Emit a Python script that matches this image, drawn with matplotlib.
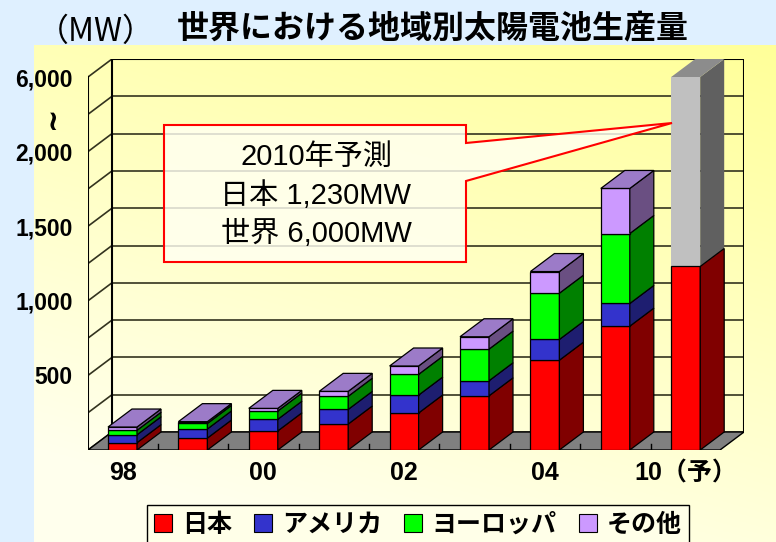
import numpy as np
import matplotlib
matplotlib.use('Agg')
import matplotlib.pyplot as plt
from matplotlib.patches import Polygon, Rectangle, Patch

plt.rcParams['font.family'] = ['Liberation Sans', 'Noto Sans CJK JP']

# data (MW)
years = ['98', '99', '00', '01', '02', '03', '04', '05', '10（予）']
tick_labels = ['98', '', '00', '', '02', '', '04', '', '10（予）']
japan = [49, 80, 128, 174, 248, 363, 602, 830, 1230]
usa = [53, 61, 78, 98, 120, 101, 139, 152, 0]
europe = [30, 37, 55, 88, 139, 212, 310, 469, 0]
others = [22, 12, 18, 33, 56, 83, 145, 302, 0]
world_2010 = 6000
series_names = ['日本', 'アメリカ', 'ヨーロッパ', 'その他']
ytick_vals = [500, 1000, 1500, 2000, 6000]
ytick_labels = ['500', '1,000', '1,500', '2,000', '6,000']
note_lines = ['2010年予測', '日本 1,230MW', '世界 6,000MW']

front_cols = ['#FF0000', '#3333CC', '#00FF00', '#CC99FF']
side_cols = ['#800000', '#1E1E70', '#008000', '#6A4F82']
top_col = '#9C7BC8'


def brk(v):
    # broken axis: above 2,250 the scale is squeezed so 6,000 sits at 2,500
    if v <= 2250:
        return v
    return 2250 + (v - 2250) * 250 / (6000 - 2250)


W, H = 776, 542
fig = plt.figure(figsize=(W / 100, H / 100), dpi=100, facecolor='#DFF0FF')


def fx(px):
    return px / W


def fy(py):
    return 1 - py / H


# yellow gradient panel
bg = fig.add_axes([fx(34), 0, 1 - fx(34), fy(45)])
bg.set_zorder(-5)
gy, gx = np.mgrid[0:1:200j, 0:1:200j]
t = np.clip(0.8 * gy + 0.35 * gx - 0.15, 0, 1)
light = np.array([1.0, 1.0, 0.93])
yellow = np.array([1.0, 1.0, 0.6])
img = light + t[..., None] * (yellow - light)
bg.imshow(img, origin='lower', aspect='auto', extent=[0, 1, 0, 1])
bg.axis('off')

# 3D-ish geometry
PXU = 373 / 2500          # pixels per MW unit
PXC = 70.4                # pixels per category
DX = 24 / PXC
DY = 18 / PXU
BW = 29 / PXC
x_left = -(122.5 - 88) / PXC
x_right = (744 - 122.5) / PXC
y_top = 2500 + DY

ax = fig.add_axes([fx(88), fy(450), fx(744) - fx(88), y_top * PXU / H])
ax.set_xlim(x_left, x_right)
ax.set_ylim(0, y_top)
ax.patch.set_alpha(0)
for s in ax.spines.values():
    s.set_visible(False)

# floor
ax.add_patch(Polygon([(x_left, 0), (x_right - DX, 0), (x_right, DY), (x_left + DX, DY)],
                     closed=True, fc='#808080', ec='black', lw=1, zorder=1))

# back wall grid and left wall ticks
grid_c = '#33331F'
for v in range(0, 2501, 250):
    ax.plot([x_left + DX, x_right], [v + DY, v + DY], color=grid_c, lw=1.2, zorder=0.5)
    ax.plot([x_left, x_left + DX], [v, v + DY], color=grid_c, lw=1.2, zorder=0.5)
ax.plot([x_left, x_left], [0, 2500], color='black', lw=1.5, zorder=2)
ax.plot([x_left + DX, x_left + DX], [DY, y_top], color='black', lw=1.5, zorder=0.6)
ax.plot([x_right, x_right], [DY, y_top], color='black', lw=1.5, zorder=0.6)
ax.plot([x_left + DX, x_right], [y_top, y_top], color='black', lw=1.5, zorder=0.6)

# floor ticks between categories
for i in range(len(years) - 1):
    ax.plot([i + 0.5, i + 0.5], [0, 40], color='black', lw=1, zorder=1.5)


def box(x, b, tp, fc, sc, ec, lw, top=None):
    x0, x1 = x - BW / 2, x + BW / 2
    ax.add_patch(Rectangle((x0, b), BW, tp - b, fc=fc, ec=ec, lw=lw, zorder=3))
    ax.add_patch(Polygon([(x1, b), (x1 + DX, b + DY), (x1 + DX, tp + DY), (x1, tp)],
                         closed=True, fc=sc, ec=ec, lw=lw, zorder=3))
    if top is not None:
        ax.add_patch(Polygon([(x0, tp), (x1, tp), (x1 + DX, tp + DY), (x0 + DX, tp + DY)],
                             closed=True, fc=top, ec=ec, lw=lw, zorder=3))


for i in range(len(years) - 1):
    vals = [japan[i], usa[i], europe[i], others[i]]
    base = 0
    for k, v in enumerate(vals):
        last = k == len(vals) - 1
        box(i, base, base + v, front_cols[k], side_cols[k], 'black', 0.9,
            top=top_col if last else None)
        base += v

# 2010 forecast bar
i = len(years) - 1
box(i, japan[i], brk(world_2010), '#C0C0C0', '#606060', 'none', 0, top='#8C8C8C')
box(i, 0, japan[i], front_cols[0], side_cols[0], 'black', 0.9)

ax.set_yticks([brk(v) for v in ytick_vals], ytick_labels)
ax.set_xticks(range(len(years)), tick_labels)
ax.tick_params(axis='y', length=0, pad=11, labelsize=16.5)
ax.tick_params(axis='x', length=0, pad=8, labelsize=18)
for lab in ax.get_yticklabels() + ax.get_xticklabels():
    lab.set_fontweight('bold')

# axis break mark
fig.text(fx(53), fy(117), '~', fontsize=20, fontweight='bold', family=['DejaVu Sans'],
         rotation=90, ha='center', va='center')

# callout note
callout = [(164, 125), (466, 125), (466, 143), (672, 123), (466, 181), (466, 262), (164, 262)]
ax.add_patch(Polygon([(fx(px), fy(py)) for px, py in callout], closed=True,
                     transform=fig.transFigure, fc='#FFFFF2', alpha=0.82, ec='none',
                     zorder=6, clip_on=False))
ax.add_patch(Polygon([(fx(px), fy(py)) for px, py in callout], closed=True,
                     transform=fig.transFigure, fc='none', ec='#FF0000', lw=1.5,
                     zorder=7, clip_on=False))
for (py, line) in zip([157, 196, 234], note_lines):
    fig.text(fx(316), fy(py), line, fontsize=21, ha='center', va='center', zorder=8)

# titles
fig.text(fx(433), fy(28), '世界における地域別太陽電池生産量', fontsize=23, fontweight='bold',
         family=['Noto Sans CJK JP'], ha='center', va='center')
fig.text(fx(96), fy(32), '（MW）', fontsize=23, family=['Noto Sans CJK JP'],
         ha='center', va='center')

# legend
handles = [Patch(fc=c, ec='black', lw=0.8) for c in front_cols]
fig.legend(handles, series_names, loc='upper center', bbox_to_anchor=(fx(418), fy(505)),
           ncol=4, prop={'size': 18, 'weight': 'bold'}, frameon=True, fancybox=False,
           edgecolor='black', facecolor='#FFFFE8', framealpha=1, handlelength=0.7,
           handleheight=0.7, handletextpad=0.4, columnspacing=0.9, borderpad=0.3,
           borderaxespad=0)

fig.savefig('out.png', dpi=100)
